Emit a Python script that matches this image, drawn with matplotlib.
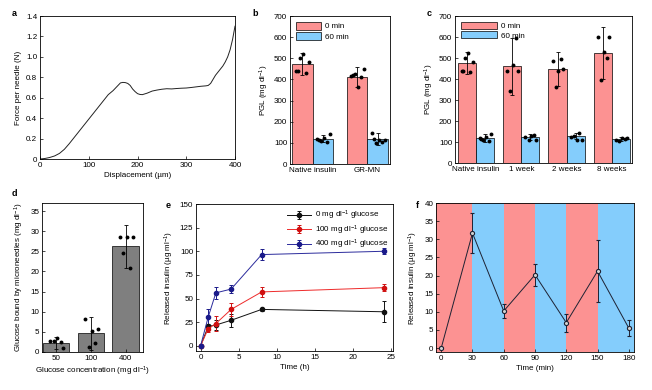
import numpy as np
import matplotlib.pyplot as plt
from matplotlib.patches import Patch

plt.rcParams['font.family'] = ['Liberation Sans', 'DejaVu Sans']
plt.rcParams['mathtext.default'] = 'regular'
plt.rcParams['font.size'] = 5.8
plt.rcParams['axes.linewidth'] = 0.6
plt.rcParams['xtick.direction'] = 'in'
plt.rcParams['ytick.direction'] = 'in'
plt.rcParams['xtick.major.size'] = 2
plt.rcParams['ytick.major.size'] = 2
plt.rcParams['xtick.major.width'] = 0.5
plt.rcParams['ytick.major.width'] = 0.5
plt.rcParams['xtick.major.pad'] = 2
plt.rcParams['ytick.major.pad'] = 2

RED = '#fc9292'
BLUE = '#84cdfc'

# ===== a: force vs displacement
disp = [0, 10, 20, 30, 40, 50, 60, 70, 80, 90, 100, 110, 120, 130, 140, 150, 160, 165, 170, 175,
        180, 185, 190, 195, 200, 205, 210, 220, 230, 240, 250, 260, 270, 280, 290, 300, 310, 320,
        330, 340, 345, 350, 355, 360, 365, 370, 375, 380, 385, 390, 395, 400]
force = [0, 0.005, 0.015, 0.03, 0.055, 0.095, 0.15, 0.21, 0.27, 0.33, 0.39, 0.45, 0.51, 0.57, 0.63,
         0.67, 0.72, 0.745, 0.75, 0.748, 0.74, 0.72, 0.685, 0.66, 0.64, 0.632, 0.63, 0.645, 0.665,
         0.675, 0.683, 0.688, 0.686, 0.69, 0.693, 0.695, 0.7, 0.706, 0.712, 0.716, 0.72, 0.74,
         0.78, 0.82, 0.85, 0.88, 0.91, 0.95, 1.0, 1.07, 1.17, 1.3]

# ===== b: PGL native insulin vs GR-MN
b_groups = ['Native insulin', 'GR-MN']
b_0min = [475, 412]
b_0min_err = [52, 46]
b_60min = [120, 118]
b_60min_err = [18, 28]
b_0min_pts = [[440, 500, 522, 432, 483, 438], [418, 425, 362, 412, 447, 420]]
b_60min_pts = [[118, 110, 125, 105, 140, 112], [145, 100, 115, 105, 112, 120]]

# ===== c: PGL after storage
c_groups = ['Native insulin', '1 week', '2 weeks', '8 weeks']
c_0min = [475, 460, 448, 525]
c_0min_err = [52, 137, 80, 125]
c_60min = [120, 122, 127, 115]
c_60min_err = [18, 14, 14, 8]
c_0min_pts = [[440, 500, 522, 432, 483, 438], [440, 345, 465, 595, 440],
              [485, 360, 440, 495, 450], [600, 395, 530, 500, 600]]
c_60min_pts = [[118, 110, 125, 105, 140, 112], [125, 110, 130, 135, 110],
               [125, 130, 110, 145, 110], [110, 105, 118, 112, 120]]

# ===== d: glucose bound
d_conc = ['50', '100', '400']
d_mean = [2.3, 4.7, 26.2]
d_err = [1.5, 4.1, 5.3]
d_pts = [[2.7, 2.8, 3.5, 2.6, 0.9], [8.3, 1.2, 5.3, 2.2, 5.7], [28.6, 24.7, 28.6, 20.8, 28.6]]

# ===== e: release over time
e_time = [0, 1, 2, 4, 8, 24]
e_0 = [0, 20.5, 22, 27, 38.5, 36]
e_0_err = [1, 3, 5, 7, 2, 11]
e_100 = [0, 18, 23.5, 38.5, 57, 61.5]
e_100_err = [1, 3, 8, 7, 5, 4]
e_400 = [0, 30.5, 56, 60, 96.5, 100]
e_400_err = [1, 8, 6, 4, 6, 3]

# ===== f: pulsatile release
f_time = [0, 30, 60, 90, 120, 150, 180]
f_rel = [0, 31.7, 10.2, 20.2, 7.0, 21.2, 5.5]
f_err = [0.3, 5.5, 2.0, 3.0, 2.5, 8.5, 2.2]
f_bands = [0, 30, 60, 90, 120, 150, 180]

# fixed jitter pattern for the individual points
JIT = [-0.11, -0.04, 0.02, 0.08, 0.13, -0.08]

fig = plt.figure(figsize=(6.52, 3.9), dpi=100)

def label(x, y, s):
    fig.text(x / 652, 1 - y / 390, s, fontsize=6.5, fontweight='bold', ha='left', va='center')

def dots(ax, x, pts, scale):
    xs = [x + JIT[k] * scale for k in range(len(pts))]
    ax.plot(xs, pts, 'o', color='black', ms=2.8, mew=0, zorder=5)

def err(ax, x, y, e):
    ax.errorbar(x, y, yerr=e, fmt='none', ecolor='black', elinewidth=0.6, capsize=1.5, capthick=0.6, zorder=4)

def legend_bars(ax, hl, hh):
    ax.legend(handles=[Patch(facecolor=RED, edgecolor='black', lw=0.5, label='0 min'),
                       Patch(facecolor=BLUE, edgecolor='black', lw=0.5, label='60 min')],
              loc='upper left', frameon=False, fontsize=5.8, handlelength=hl, handleheight=hh,
              borderaxespad=0.3, labelspacing=0.15, handletextpad=0.5)

# a
ax = fig.add_axes([40 / 652, 1 - 159 / 390, 195 / 652, 143 / 390])
ax.plot(disp, force, color='#222222', lw=0.7)
ax.set_xlim(0, 400)
ax.set_ylim(0, 1.4)
ax.set_xticks([0, 100, 200, 300, 400])
ax.set_yticks([0, 0.2, 0.4, 0.6, 0.8, 1.0, 1.2, 1.4])
ax.set_yticklabels(['0', '0.2', '0.4', '0.6', '0.8', '1.0', '1.2', '1.4'])
ax.set_xlabel('Displacement (µm)', labelpad=2)
ax.set_ylabel('Force per needle (N)', labelpad=3)
label(12, 14, 'a')

# b
ax = fig.add_axes([290 / 652, 1 - 164 / 390, 100 / 652, 148 / 390])
w = 0.38
x = np.arange(len(b_groups))
ax.bar(x - w / 2, b_0min, w, color=RED, edgecolor='black', lw=0.5)
ax.bar(x + w / 2, b_60min, w, color=BLUE, edgecolor='black', lw=0.5)
err(ax, x - w / 2, b_0min, b_0min_err)
err(ax, x + w / 2, b_60min, b_60min_err)
for i in range(len(b_groups)):
    dots(ax, x[i] - w / 2, b_0min_pts[i], 1.0)
    dots(ax, x[i] + w / 2, b_60min_pts[i], 1.0)
ax.set_xlim(-0.41, 1.41)
ax.set_ylim(0, 700)
ax.set_xticks(x)
ax.set_xticklabels(b_groups)
ax.tick_params(axis='x', length=0)
ax.set_ylabel('PGL (mg dl$^{-1}$)', labelpad=2)
legend_bars(ax, 3.2, 1.2)
label(252, 14, 'b')

# c
ax = fig.add_axes([455 / 652, 1 - 163 / 390, 177 / 652, 147 / 390])
w = 0.4
x = np.arange(len(c_groups))
ax.bar(x - w / 2, c_0min, w, color=RED, edgecolor='black', lw=0.5)
ax.bar(x + w / 2, c_60min, w, color=BLUE, edgecolor='black', lw=0.5)
err(ax, x - w / 2, c_0min, c_0min_err)
err(ax, x + w / 2, c_60min, c_60min_err)
for i in range(len(c_groups)):
    dots(ax, x[i] - w / 2, c_0min_pts[i], 1.0)
    dots(ax, x[i] + w / 2, c_60min_pts[i], 1.0)
ax.set_xlim(-0.46, 3.44)
ax.set_ylim(0, 700)
ax.set_xticks(x)
ax.set_xticklabels(c_groups)
ax.tick_params(axis='x', length=0)
ax.set_ylabel('PGL (mg dl$^{-1}$)', labelpad=2)
legend_bars(ax, 4.5, 1.0)
label(427, 14, 'c')

# d
ax = fig.add_axes([42 / 652, 1 - 352 / 390, 101 / 652, 149 / 390])
x = np.arange(len(d_conc))
ax.bar(x, d_mean, 0.76, color='#7f7f7f', edgecolor='black', lw=0.5)
err(ax, x, d_mean, d_err)
for i in range(len(d_conc)):
    dots(ax, x[i], d_pts[i], 1.6)
ax.set_xlim(-0.41, 2.5)
ax.set_ylim(0, 37)
ax.set_yticks([0, 5, 10, 15, 20, 25, 30, 35])
ax.set_xticks(x)
ax.set_xticklabels(d_conc)
ax.set_xlabel('Glucose concentration (mg dl$^{-1}$)', labelpad=2)
ax.set_ylabel('Glucose bound by microneedles (mg dl$^{-1}$)', labelpad=3)
label(12, 194, 'd')

# e
ax = fig.add_axes([196 / 652, 1 - 351 / 390, 197 / 652, 147 / 390])
for ys, es, c, mc, lab in [(e_0, e_0_err, '#111111', '#111111', '0 mg dl$^{-1}$ glucose'),
                           (e_100, e_100_err, '#ee2a2a', '#d01010', '100 mg dl$^{-1}$ glucose'),
                           (e_400, e_400_err, '#2b2b9c', '#1a1a8a', '400 mg dl$^{-1}$ glucose')]:
    ax.errorbar(e_time, ys, yerr=es, color=c, lw=0.7, marker='o', ms=3, mfc=mc, mec=mc,
                elinewidth=0.7, capsize=1.5, capthick=0.7, ecolor=mc, label=lab)
ax.set_xlim(-0.6, 25.2)
ax.set_ylim(-5.5, 150)
ax.set_xticks([0, 5, 10, 15, 20, 25])
ax.set_yticks([0, 25, 50, 75, 100, 125, 150])
ax.set_xlabel('Time (h)', labelpad=2)
ax.set_ylabel('Released insulin (µg ml$^{-1}$)', labelpad=3)
ax.legend(loc='upper right', frameon=False, fontsize=5.8, handlelength=3, borderaxespad=0.2,
          labelspacing=0.15, handletextpad=0.5)
label(166, 205, 'e')

# f
ax = fig.add_axes([436 / 652, 1 - 352 / 390, 198 / 652, 149 / 390])
ax.set_xlim(-5, 185)
ax.set_ylim(-1.1, 40)
edges = [-5] + f_bands[1:-1] + [185]
for i in range(len(edges) - 1):
    ax.axvspan(edges[i], edges[i + 1], color=RED if i % 2 == 0 else BLUE, lw=0, zorder=0)
ax.errorbar(f_time, f_rel, yerr=f_err, color='#1e2233', lw=0.7, marker='o', ms=3, mfc='#d0d0d0',
            mec='#1e2233', mew=0.8, elinewidth=0.7, capsize=1.5, capthick=0.7, ecolor='#1e2233', zorder=3)
ax.set_xticks(f_time)
ax.set_yticks([0, 5, 10, 15, 20, 25, 30, 35, 40])
ax.set_xlabel('Time (min)', labelpad=2)
ax.set_ylabel('Released insulin (µg ml$^{-1}$)', labelpad=3)
label(416, 205, 'f')

fig.savefig('out.png', dpi=100)
